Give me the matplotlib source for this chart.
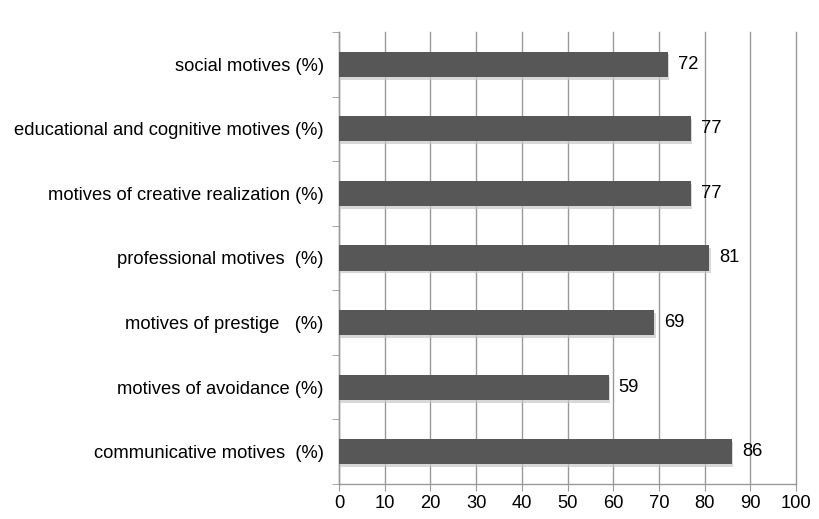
import matplotlib
matplotlib.use('Agg')
import matplotlib.pyplot as plt
import matplotlib.patheffects as pe
import numpy as np

plt.rcParams['font.family'] = ['Liberation Sans', 'DejaVu Sans']

# categories listed bottom to top
categories = ['communicative motives  (%)', 'motives of avoidance (%)',
              'motives of prestige   (%)', 'professional motives  (%)',
              'motives of creative realization (%)',
              'educational and cognitive motives (%)', 'social motives (%)']
values = [86, 59, 69, 81, 77, 77, 72]
xticks = list(range(0, 101, 10))

fig = plt.figure(figsize=(8.19, 5.19), dpi=100)
ax = fig.add_axes([0.414, 0.0674, 0.558, 0.871])

y = np.arange(len(categories))
bars = ax.barh(y, values, height=0.39, color='#575757', zorder=3)
for b in bars:
    b.set_path_effects([pe.SimplePatchShadow(offset=(1, -2), shadow_rgbFace='#c8c8c8', alpha=0.7),
                        pe.Normal()])

for yi, v in zip(y, values):
    ax.text(v + 2.2, yi, str(v), va='center', ha='left', fontsize=13.2, zorder=4)

ax.set_xlim(0, 100)
ax.set_ylim(-0.5, len(categories) - 0.5)
ax.set_xticks(xticks)
ax.set_xticklabels([str(t) for t in xticks], fontsize=13.2)
ax.set_yticks(y)
ax.set_yticklabels(categories, fontsize=13.2)
ax.set_yticks(np.arange(-0.5, len(categories), 1), minor=True)

ax.xaxis.grid(True, color='#999999', linewidth=1.0, zorder=0)
for gl in ax.get_xgridlines():
    gl.set_clip_on(False)
ax.tick_params(axis='y', which='major', length=0, pad=11)
ax.tick_params(axis='y', which='minor', length=5, color='#999999', direction='out')
ax.tick_params(axis='x', length=5, color='#999999', direction='out', pad=3)

for s in ['top', 'right']:
    ax.spines[s].set_visible(False)
for s in ['left', 'bottom']:
    ax.spines[s].set_color('#999999')
    ax.spines[s].set_linewidth(1.0)

fig.savefig('out.png', dpi=100)
